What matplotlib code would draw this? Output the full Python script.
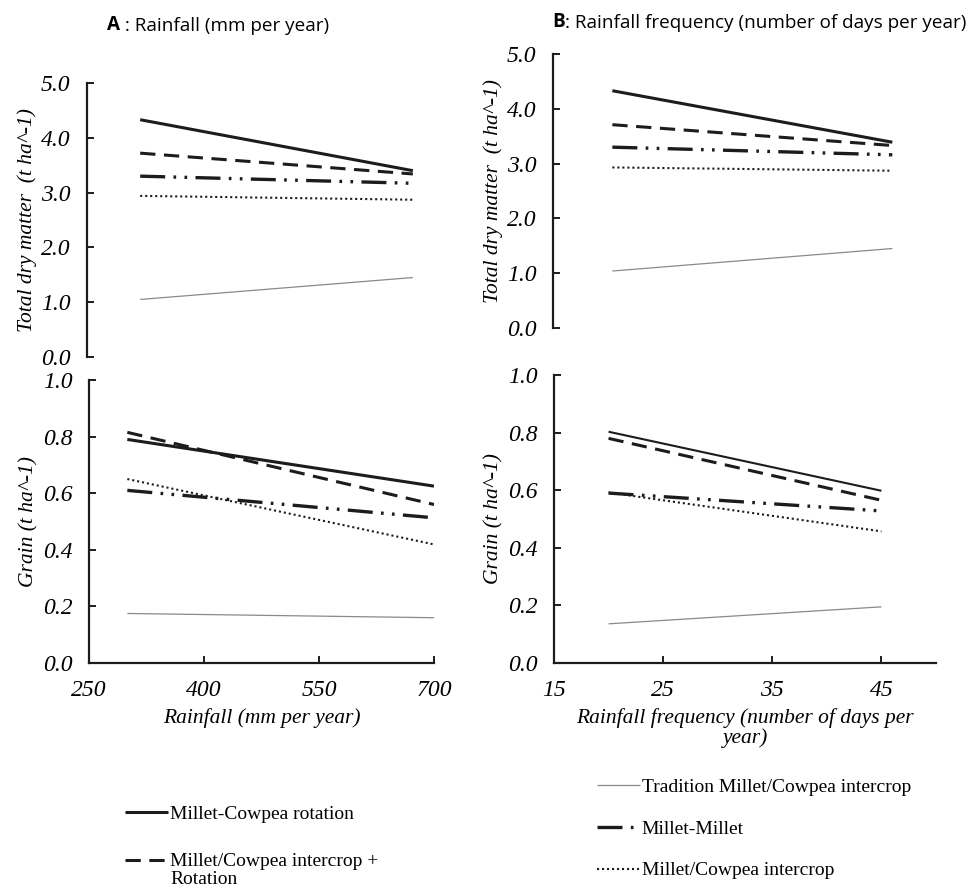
""" Total dry matter and grain of millet systems vs rainfall and rainfall frequency
"""

import matplotlib
import matplotlib.pyplot as plt
from matplotlib.ticker import FormatStrFormatter

matplotlib.use("Agg")

dpi = 100
serif = "Liberation Serif"
sans = "Open Sans"
ink = "#1c1c1c"

# x values of the fitted lines
rainfall = [300, 700]
frequency = [20, 45]

systems = ["Millet-Cowpea rotation",
           "Millet/Cowpea intercrop +",
           "Tradition Millet/Cowpea intercrop",
           "Millet-Millet",
           "Millet/Cowpea intercrop"]

# start / end values, in the order of systems
tdm_rain = [[4.33, 3.40], [3.72, 3.34], [1.05, 1.45], [3.30, 3.17], [2.94, 2.87]]
tdm_freq = [[4.33, 3.39], [3.71, 3.33], [1.04, 1.45], [3.30, 3.16], [2.93, 2.87]]
grain_rain = [[0.79, 0.625], [0.815, 0.56], [0.175, 0.16], [0.61, 0.513], [0.65, 0.419]]
grain_freq = [[0.803, 0.598], [0.78, 0.565], [0.136, 0.195], [0.59, 0.528], [0.592, 0.457]]


def style(i, thin_solid=False):
    """line style of system i (index into systems)"""
    if i == 0:
        return dict(color=ink, lw=1.5 if thin_solid else 2.2, ls="-")
    if i == 1:
        return dict(color=ink, lw=2.2, ls=(0, (5, 2.8)))
    if i == 2:
        return dict(color="#8a8a8a", lw=0.9, ls="-")
    if i == 3:
        return dict(color=ink, lw=2.4, ls=(0, (7.5, 2.5, 0.8, 2.5, 0.8, 2.5)))
    return dict(color=ink, lw=1.5, ls=(0, (1, 1.4)))


def setup(ax, ylim, yticks, ylabel, xaxis):
    ax.spines["top"].set_visible(False)
    ax.spines["right"].set_visible(False)
    for s in ("left", "bottom"):
        ax.spines[s].set_linewidth(1.6)
        ax.spines[s].set_color(ink)
    ax.set_ylim(*ylim)
    ax.set_yticks(yticks)
    ax.yaxis.set_major_formatter(FormatStrFormatter("%.1f"))
    ax.tick_params(direction="in", length=5, width=1.4, color=ink, pad=12,
                   labelsize=17)
    for t in ax.get_xticklabels() + ax.get_yticklabels():
        t.set_fontfamily(serif)
        t.set_fontstyle("italic")
    ax.set_ylabel(ylabel, fontfamily=serif, fontstyle="italic",
                  fontsize=15.5, labelpad=3)
    if not xaxis:
        ax.spines["bottom"].set_visible(False)
        ax.set_xticks([])


fig = plt.figure(figsize=(976 / dpi, 889 / dpi), dpi=dpi)
W, H = 976, 889


def px_axes(left, top, right, bottom):
    return fig.add_axes([left / W, 1 - bottom / H, (right - left) / W,
                         (bottom - top) / H])


ax_tl = px_axes(87, 83, 434, 357)
ax_tr = px_axes(553, 54, 936, 328)
ax_bl = px_axes(89, 380, 434, 663)
ax_br = px_axes(554, 375, 936, 663)

panels = [
    (ax_tl, rainfall, tdm_rain, False),
    (ax_tr, frequency, tdm_freq, False),
    (ax_bl, rainfall, grain_rain, False),
    (ax_br, frequency, grain_freq, True),
]

handles = [None] * 5
for ax, x, data, thin in panels:
    for i, row in enumerate(data):
        ln, = ax.plot(x, row, **style(i, thin), solid_capstyle="butt",
                      dash_capstyle="butt")
        if handles[i] is None:
            handles[i] = ln

ax_tl.set_xlim(222, 731)
ax_tr.set_xlim(14.7, 48.9)
ax_bl.set_xlim(250, 700)
ax_bl.set_xticks([250, 400, 550, 700])
ax_br.set_xlim(15, 50)
ax_br.set_xticks([15, 25, 35, 45])

ylab_tdm = "Total dry matter  (t ha^-1)"
ylab_grain = "Grain (t ha^-1)"
setup(ax_tl, (0, 5), [0, 1, 2, 3, 4, 5], ylab_tdm, False)
setup(ax_tr, (0, 5), [0, 1, 2, 3, 4, 5], ylab_tdm, False)
setup(ax_bl, (0, 1), [0, 0.2, 0.4, 0.6, 0.8, 1.0], ylab_grain, True)
setup(ax_br, (0, 1), [0, 0.2, 0.4, 0.6, 0.8, 1.0], ylab_grain, True)

ax_bl.set_xlabel("Rainfall (mm per year)", fontfamily=serif,
                 fontstyle="italic", fontsize=15.5, labelpad=5)
ax_br.set_xlabel("Rainfall frequency (number of days per\nyear)",
                 fontfamily=serif, fontstyle="italic", fontsize=15.5,
                 labelpad=5, linespacing=1.05)

# panel titles: bold letter followed by regular text
ta = fig.text(107 / W, 1 - 30 / H, "A", fontfamily=sans, fontweight="bold",
              fontsize=13.6, va="baseline")
fig.add_artist(plt.Annotation(" : Rainfall (mm per year)", xy=(1, 0),
                              xycoords=ta, va="bottom", fontfamily=sans,
                              fontsize=13.6))
tb = fig.text(552 / W, 1 - 27 / H, "B", fontfamily=sans, fontweight="bold",
              fontsize=13.6, va="baseline")
fig.add_artist(plt.Annotation(": Rainfall frequency (number of days per year)",
                              xy=(1, 0), xycoords=tb, va="bottom",
                              fontfamily=sans, fontsize=13.6))

# legends
leg_kw = dict(frameon=False, loc="upper left", borderpad=0, borderaxespad=0,
              handlelength=2.2, handletextpad=0.1,
              prop=dict(family=serif, size=14))
fig.legend([handles[0], handles[1]], systems[:2],
           bbox_to_anchor=(125 / W, 1 - 805 / H), labelspacing=1.55,
           **leg_kw)
fig.legend([handles[2], handles[3], handles[4]], systems[2:],
           bbox_to_anchor=(597 / W, 1 - 778 / H), labelspacing=1.25,
           **leg_kw)
# second line of the wrapped legend label
fig.text(170 / W, 1 - 880 / H, "Rotation", fontfamily=serif, fontsize=14,
         va="center")

fig.savefig("out.png", dpi=dpi)
